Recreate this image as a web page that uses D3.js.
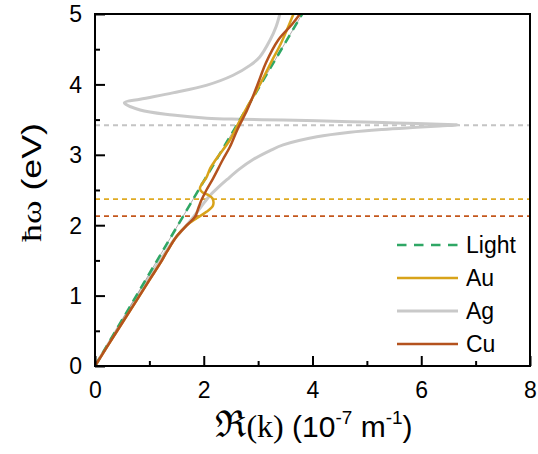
<!DOCTYPE html>
<html>
<head>
<meta charset="utf-8">
<script src="https://cdn.jsdelivr.net/npm/d3@7"></script>
<style>
  html, body { margin: 0; padding: 0; background: #fff; }
  svg { display: block; }
  text { font-family: "Liberation Sans", Arial, sans-serif; fill: #000; }
</style>
</head>
<body>
<svg id="chart" width="538" height="454"></svg>
<script>
// ---------- data (k in 10^7 m^-1, energy in eV) ----------
const xMajorTicks = [0, 2, 4, 6, 8];
const xMinorTicks = [1, 3, 5, 7];
const yMajorTicks = [0, 1, 2, 3, 4, 5];
const yMinorTicks = [0.5, 1.5, 2.5, 3.5, 4.5];

const seriesNames = ["Light", "Au", "Ag", "Cu"];

const lightCurve = [[0, 0], [3.81, 5.0]];

const auCurve = [
  [0, 0], [0.4, 0.49], [0.78, 0.95], [1.0, 1.22], [1.2, 1.46], [1.32, 1.62],
  [1.5, 1.84], [1.69, 2.0], [1.87, 2.1], [2.05, 2.19], [2.17, 2.28], [2.16, 2.38],
  [2.08, 2.43], [1.97, 2.47], [1.93, 2.52], [1.96, 2.58], [2.05, 2.68],
  [2.12, 2.81], [2.22, 2.93], [2.48, 3.21], [2.64, 3.45], [2.80, 3.68],
  [2.95, 3.88], [3.12, 4.13], [3.25, 4.33], [3.43, 4.60], [3.65, 5.0]
];

const agCurve = [
  [0, 0], [0.4, 0.51], [0.78, 0.99], [1.0, 1.26], [1.2, 1.5], [1.44, 1.78],
  [1.56, 1.89], [1.75, 2.06], [1.93, 2.24], [2.11, 2.42], [2.27, 2.54],
  [2.43, 2.65], [2.66, 2.80], [2.90, 2.93], [3.22, 3.06], [3.46, 3.14],
  [4.08, 3.255], [4.69, 3.32], [5.29, 3.36], [5.92, 3.39], [6.34, 3.41],
  [6.67, 3.425], [6.34, 3.433], [5.92, 3.445], [5.29, 3.458], [4.69, 3.47],
  [4.08, 3.482], [3.46, 3.493], [2.67, 3.505], [2.06, 3.52], [1.43, 3.565],
  [0.83, 3.636], [0.54, 3.74], [0.83, 3.79], [1.43, 3.88], [2.06, 3.99],
  [2.54, 4.13], [2.85, 4.27], [3.03, 4.39], [3.22, 4.63], [3.33, 4.82], [3.40, 5.0]
];

const cuCurve = [
  [0, 0], [0.4, 0.49], [0.78, 0.95], [1.0, 1.22], [1.2, 1.46], [1.32, 1.62],
  [1.5, 1.84], [1.69, 2.0], [1.84, 2.12], [1.90, 2.24], [1.96, 2.36],
  [2.05, 2.5], [2.175, 2.67], [2.35, 2.93], [2.48, 3.11], [2.62, 3.36],
  [2.80, 3.64], [2.93, 3.88], [3.03, 4.08], [3.14, 4.30], [3.37, 4.63],
  [3.61, 4.84], [3.77, 5.0]
];

// surface plasmon energies (horizontal dashed lines)
const plasmonNames = ["Ag", "Au", "Cu"];
const plasmonEnergies = [3.42, 2.37, 2.13];

const colors = { Light: "#2fa765", Au: "#d8a31a", Ag: "#c9c9c9", Cu: "#b4521e" };
const dashColors = { Ag: "#c4c4c4", Au: "#dfaa22", Cu: "#c4571c" };

// ---------- layout ----------
const svg = d3.select("#chart");
const x = d3.scaleLinear().domain([0, 8]).range([95, 530]);
const y = d3.scaleLinear().domain([0, 5]).range([366, 14]);

svg.append("rect").attr("width", 538).attr("height", 454).attr("fill", "#fff");

svg.append("defs").append("clipPath").attr("id", "plotclip")
  .append("rect").attr("x", x(0)).attr("y", y(5)).attr("width", x(8) - x(0)).attr("height", y(0) - y(5));

const plot = svg.append("g").attr("clip-path", "url(#plotclip)");

// plasmon dashed lines
plasmonNames.forEach((n, i) => {
  plot.append("line")
    .attr("x1", x(0)).attr("x2", x(8))
    .attr("y1", y(plasmonEnergies[i])).attr("y2", y(plasmonEnergies[i]))
    .attr("stroke", dashColors[n]).attr("stroke-width", 1.8)
    .attr("stroke-dasharray", "5,4");
});

const line = d3.line().x(d => x(d[0])).y(d => y(d[1])).curve(d3.curveCatmullRom.alpha(0.5));
const straight = d3.line().x(d => x(d[0])).y(d => y(d[1]));

// Ag
plot.append("path").datum(agCurve).attr("d", line)
  .attr("fill", "none").attr("stroke", colors.Ag).attr("stroke-width", 3).attr("stroke-linejoin", "round");
// Light (thin underline + dashes)
plot.append("path").datum(lightCurve).attr("d", straight)
  .attr("fill", "none").attr("stroke", "#8a8a8a").attr("stroke-width", 0.7);
plot.append("path").datum(lightCurve).attr("d", straight)
  .attr("fill", "none").attr("stroke", colors.Light).attr("stroke-width", 2.6)
  .attr("stroke-dasharray", "9,6");
// Au
plot.append("path").datum(auCurve).attr("d", line)
  .attr("fill", "none").attr("stroke", colors.Au).attr("stroke-width", 2.5).attr("stroke-linejoin", "round");
// Cu
plot.append("path").datum(cuCurve).attr("d", line)
  .attr("fill", "none").attr("stroke", colors.Cu).attr("stroke-width", 2.5).attr("stroke-linejoin", "round");

// ---------- axes ----------
const fontSize = 23;
const xMajor = svg.append("g").attr("transform", `translate(0,${y(0)})`)
  .call(d3.axisBottom(x).tickValues(xMajorTicks).tickSize(-10).tickPadding(16).tickFormat(d3.format("d")));
const xMinor = svg.append("g").attr("transform", `translate(0,${y(0)})`)
  .call(d3.axisBottom(x).tickValues(xMinorTicks).tickSize(-5).tickFormat(""));
const yMajor = svg.append("g").attr("transform", `translate(${x(0)},0)`)
  .call(d3.axisLeft(y).tickValues(yMajorTicks).tickSize(-10).tickPadding(13).tickFormat(d3.format("d")));
const yMinor = svg.append("g").attr("transform", `translate(${x(0)},0)`)
  .call(d3.axisLeft(y).tickValues(yMinorTicks).tickSize(-5).tickFormat(""));

[xMajor, xMinor, yMajor, yMinor].forEach(g => {
  g.select(".domain").remove();
  g.selectAll(".tick line").attr("stroke", "#000").attr("stroke-width", 2);
  g.selectAll(".tick text").attr("font-size", fontSize).attr("font-family", "Liberation Sans, Arial, sans-serif").attr("fill", "#000");
});
yMajor.selectAll(".tick text").attr("dy", "0.34em");

// frame
svg.append("rect")
  .attr("x", x(0)).attr("y", y(5)).attr("width", x(8) - x(0)).attr("height", y(0) - y(5))
  .attr("fill", "none").attr("stroke", "#000").attr("stroke-width", 2);

// ---------- axis titles ----------
const xt = svg.append("text").attr("x", 314).attr("y", 437).attr("text-anchor", "middle").attr("font-size", 30);
xt.append("tspan").attr("font-family", "DejaVu Serif, serif").attr("font-size", 37).text("ℜ");
xt.append("tspan").attr("font-family", "Liberation Serif, serif").attr("font-size", 32).text("(k)");
xt.append("tspan").text(" (10");
xt.append("tspan").attr("font-size", 19).attr("dy", -13).text("-7");
xt.append("tspan").attr("dy", 13).text(" m");
xt.append("tspan").attr("font-size", 19).attr("dy", -13).text("-1");
xt.append("tspan").attr("dy", 13).text(")");

const yt = svg.append("text")
  .attr("transform", "translate(40.5,182.5) rotate(-90)")
  .attr("text-anchor", "middle").attr("font-size", 28)
  .attr("textLength", 119).attr("lengthAdjust", "spacingAndGlyphs");
yt.append("tspan").attr("font-family", "Liberation Serif, serif").text("ħω");
yt.append("tspan").text(" (eV)");

// ---------- legend ----------
const legendY = [245, 278, 311, 344];
const legend = svg.append("g");
seriesNames.forEach((n, i) => {
  const ly = legendY[i];
  legend.append("line")
    .attr("x1", 397).attr("x2", 458).attr("y1", ly).attr("y2", ly)
    .attr("stroke", colors[n]).attr("stroke-width", n === "Ag" ? 3 : 2.6)
    .attr("stroke-dasharray", n === "Light" ? "9.5,7.5" : null);
  legend.append("text").attr("x", 466).attr("y", ly + 8.3)
    .attr("font-size", fontSize).text(n);
});
</script>
</body>
</html>
